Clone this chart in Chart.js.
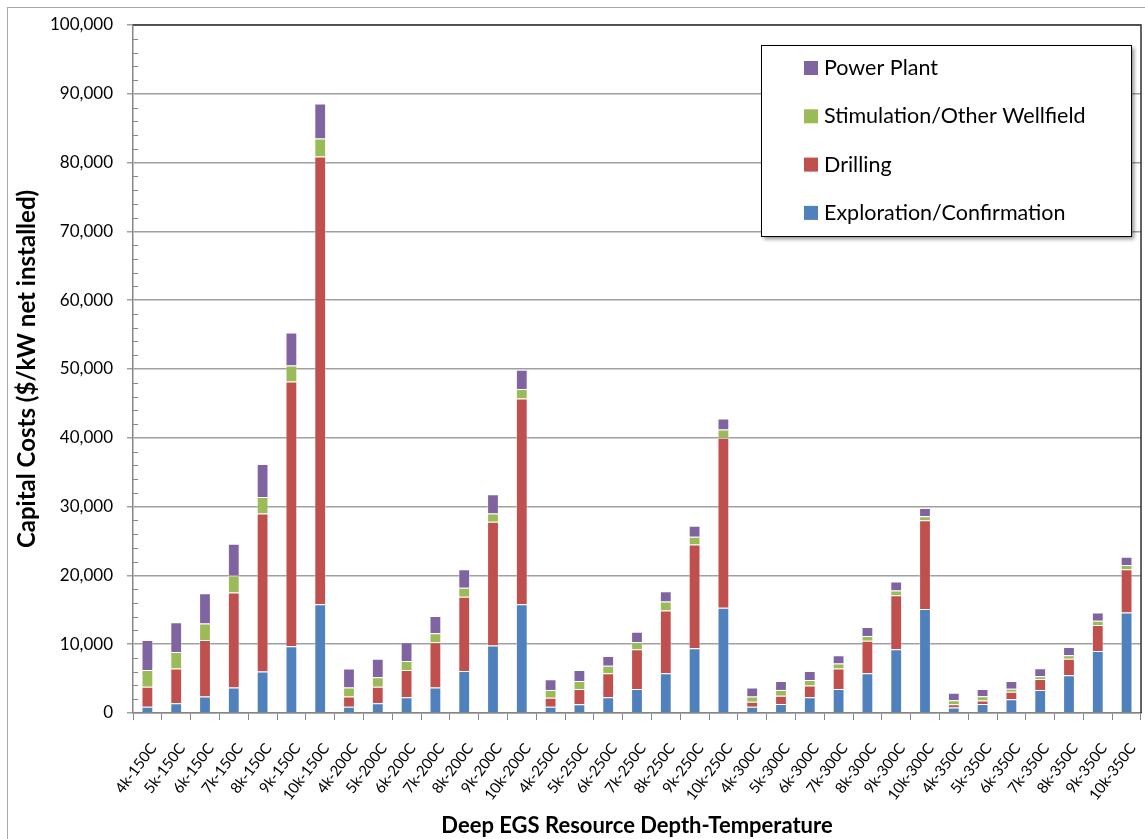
<!DOCTYPE html>
<html>
<head>
<meta charset="utf-8">
<title>Deep EGS capital costs</title>
<script src="https://cdn.jsdelivr.net/npm/chart.js@4.4.1/dist/chart.umd.min.js"></script>
<style>
  html, body { margin: 0; padding: 0; background: #fff; }
  #wrap { width: 1145px; height: 839px; }
</style>
</head>
<body>
<div id="wrap"><canvas id="egsChart" width="1145" height="839"></canvas></div>
<script>
// categories: depth (k ft) - temperature
const depthTemps = [
  '4k-150C', '5k-150C', '6k-150C', '7k-150C', '8k-150C', '9k-150C', '10k-150C',
  '4k-200C', '5k-200C', '6k-200C', '7k-200C', '8k-200C', '9k-200C', '10k-200C',
  '4k-250C', '5k-250C', '6k-250C', '7k-250C', '8k-250C', '9k-250C', '10k-250C',
  '4k-300C', '5k-300C', '6k-300C', '7k-300C', '8k-300C', '9k-300C', '10k-300C',
  '4k-350C', '5k-350C', '6k-350C', '7k-350C', '8k-350C', '9k-350C', '10k-350C'
];

// $/kW
const exploration = [
  920, 1400, 2400, 3700, 6050, 9700, 15800,
  920, 1400, 2300, 3700, 6100, 9800, 15800,
  920, 1260, 2300, 3500, 5770, 9400, 15300,
  920, 1300, 2300, 3500, 5770, 9250, 15100,
  800, 1300, 2000, 3350, 5500, 9000, 14600
];
const drilling = [
  2880, 5050, 8200, 13800, 22950, 38500, 65100,
  1480, 2400, 3950, 6600, 10800, 18000, 29900,
  1280, 2240, 3470, 5750, 9130, 15100, 24700,
  730, 1200, 1700, 2950, 4730, 7850, 12900,
  460, 500, 1100, 1590, 2400, 3800, 6300
];
const stimulation = [
  2450, 2420, 2400, 2500, 2400, 2300, 2600,
  1300, 1400, 1310, 1300, 1300, 1200, 1400,
  1150, 1150, 1100, 1050, 1300, 1100, 1200,
  750, 850, 800, 750, 700, 700, 600,
  590, 630, 430, 390, 500, 600, 600
];
const powerPlant = [
  4350, 4330, 4400, 4600, 4800, 4800, 5100,
  2750, 2700, 2740, 2500, 2700, 2800, 2800,
  1550, 1600, 1400, 1500, 1500, 1600, 1600,
  1300, 1300, 1300, 1200, 1300, 1300, 1200,
  1100, 1070, 1120, 1170, 1200, 1200, 1200
];

const yMax = 100000;
const yStep = 10000;
const yMinorStep = 2000;

const FONT = 'Lato, "Open Sans", sans-serif';
const AXIS_GRAY = '#868686';

function makeSet(label, data, color) {
  return {
    label: label,
    data: data,
    backgroundColor: color,
    borderColor: 'rgba(255,255,255,0.35)',
    borderWidth: 1,
    barPercentage: 0.41,
    categoryPercentage: 1.0
  };
}

// white page, outer frame, plot frame, minor ticks and the boxed legend
const excelFrame = {
  id: 'excelFrame',
  beforeDraw(chart) {
    const ctx = chart.ctx;
    ctx.save();
    ctx.fillStyle = '#fff';
    ctx.fillRect(0, 0, chart.width, chart.height);
    ctx.restore();
  },
  afterDraw(chart) {
    const ctx = chart.ctx;
    const ca = chart.chartArea;
    const yScale = chart.scales.y;
    ctx.save();

    // outer chart border
    ctx.strokeStyle = '#a8a8a8';
    ctx.lineWidth = 1;
    ctx.strokeRect(7.5, 7.5, chart.width + 20, chart.height + 20);

    // top and right edge of the plot
    ctx.strokeStyle = '#303030';
    ctx.lineWidth = 1.5;
    ctx.beginPath();
    ctx.moveTo(ca.left, ca.top);
    ctx.lineTo(ca.right, ca.top);
    ctx.lineTo(ca.right, ca.bottom);
    ctx.stroke();

    // minor ticks on the value axis
    ctx.strokeStyle = AXIS_GRAY;
    ctx.lineWidth = 1;
    for (let v = yMinorStep; v < yMax; v += yMinorStep) {
      if (v % yStep === 0) continue;
      const y = Math.round(yScale.getPixelForValue(v)) + 0.5;
      ctx.beginPath();
      ctx.moveTo(ca.left, y);
      ctx.lineTo(ca.left + 5, y);
      ctx.stroke();
    }

    // legend box
    const bw = 370, bh = 191;
    const bx = ca.right - 380, by = ca.top + 20;
    ctx.save();
    ctx.shadowColor = 'rgba(0,0,0,0.45)';
    ctx.shadowBlur = 4;
    ctx.shadowOffsetX = 3;
    ctx.shadowOffsetY = 3;
    ctx.fillStyle = '#fff';
    ctx.fillRect(bx, by, bw, bh);
    ctx.restore();
    ctx.strokeStyle = '#000';
    ctx.lineWidth = 1;
    ctx.strokeRect(bx + 0.5, by + 0.5, bw, bh);

    const sets = chart.data.datasets.slice().reverse();
    ctx.font = '21.5px ' + FONT;
    ctx.textBaseline = 'middle';
    ctx.textAlign = 'left';
    sets.forEach((ds, i) => {
      const cy = by + 23 + i * 48.3;
      ctx.fillStyle = ds.backgroundColor;
      ctx.fillRect(bx + 43, cy - 7, 14, 14);
      ctx.fillStyle = '#000';
      ctx.fillText(ds.label, bx + 63, cy);
    });

    ctx.restore();
  }
};

const ctx = document.getElementById('egsChart').getContext('2d');
const egsChart = new Chart(ctx, {
  type: 'bar',
  data: {
    labels: depthTemps,
    datasets: [
      makeSet('Exploration/Confirmation', exploration, '#4F81BD'),
      makeSet('Drilling', drilling, '#C0504D'),
      makeSet('Stimulation/Other Wellfield', stimulation, '#9BBB59'),
      makeSet('Power Plant', powerPlant, '#8064A2')
    ]
  },
  options: {
    responsive: false,
    animation: false,
    layout: { padding: { top: 25, right: 4, left: 0, bottom: 0 } },
    plugins: {
      legend: { display: false },
      tooltip: { enabled: false }
    },
    scales: {
      x: {
        stacked: true,
        grid: { drawOnChartArea: false, offset: true, tickLength: 7, color: AXIS_GRAY, lineWidth: 1 },
        border: { color: AXIS_GRAY, width: 1.5 },
        ticks: {
          autoSkip: false,
          maxRotation: 53,
          minRotation: 53,
          padding: 20,
          labelOffset: 6,
          color: '#000',
          font: { family: FONT, size: 15 }
        },
        title: {
          display: true,
          text: 'Deep EGS Resource Depth-Temperature',
          color: '#000',
          font: { family: FONT, size: 22, weight: 'bold' },
          padding: { top: 0, bottom: 0 }
        },
        afterFit(scale) {
          scale.height = 126;
          scale.paddingLeft = 0;
          scale.paddingRight = 0;
        }
      },
      y: {
        stacked: true,
        min: 0,
        max: yMax,
        grid: { color: '#a0a0a0', lineWidth: 1.5, tickLength: 6 },
        border: { color: AXIS_GRAY, width: 1.5 },
        ticks: {
          stepSize: yStep,
          padding: 14,
          color: '#000',
          font: { family: FONT, size: 17 },
          callback: v => v.toLocaleString('en-US')
        },
        title: {
          display: true,
          text: 'Capital Costs ($/kW net installed)',
          color: '#000',
          font: { family: FONT, size: 24, weight: 'bold' },
          padding: { top: 13, bottom: 0 }
        },
        afterFit(scale) { scale.width = 133; }
      }
    }
  },
  plugins: [excelFrame]
});
</script>
</body>
</html>
